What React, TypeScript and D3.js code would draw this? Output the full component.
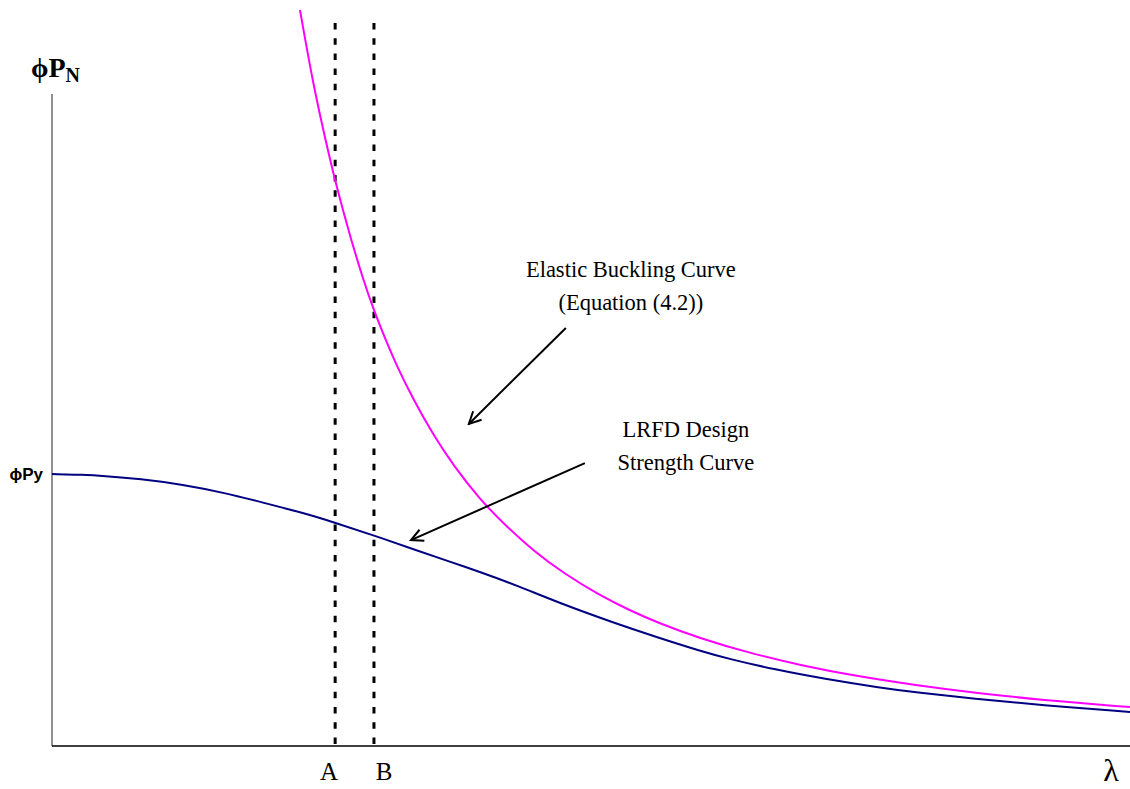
import React from "react";
import * as d3 from "d3";

// Slenderness (λ) and strength (P / Py)
const elasticLambda = [0.69, 0.726, 0.754, 0.788, 0.829, 0.866, 0.896, 0.932, 0.96, 1.005, 1.06, 1.116, 1.191, 1.261, 1.341, 1.422, 1.525, 1.606, 1.686, 1.803, 1.943, 2.093, 2.229, 2.404, 2.577, 2.75, 3.0];
const elasticP = [2.706, 2.44, 2.27, 2.075, 1.876, 1.715, 1.6, 1.482, 1.396, 1.275, 1.146, 1.033, 0.906, 0.812, 0.716, 0.637, 0.553, 0.5, 0.453, 0.396, 0.341, 0.294, 0.259, 0.223, 0.194, 0.17, 0.143];

const lrfdLambda = [0, 0.086, 0.142, 0.245, 0.365, 0.476, 0.587, 0.699, 0.788, 0.896, 1.005, 1.108, 1.191, 1.294, 1.411, 1.561, 1.686, 1.803, 1.884, 2.012, 2.148, 2.31, 2.404, 2.577, 2.75, 3.0];
const lrfdP = [1.0, 0.997, 0.993, 0.982, 0.961, 0.932, 0.895, 0.857, 0.821, 0.774, 0.724, 0.677, 0.64, 0.59, 0.526, 0.454, 0.399, 0.35, 0.32, 0.281, 0.247, 0.213, 0.197, 0.172, 0.151, 0.125];

const markerNames = ["A", "B"];
const markerLambda = [0.788, 0.896];
const markerLabelLambda = [0.771, 0.924];

const yTickValue = 1.0;
const yTickLabel = "ϕPy";

const annotationLines = [
  ["Elastic Buckling Curve", "(Equation (4.2))"],
  ["LRFD Design", "Strength Curve"],
];
const annotationTextLambda = [1.611, 1.764];
const annotationTextP = [[1.724, 1.603], [1.136, 1.015]];
const arrowFrom = [[1.43, 1.537], [1.483, 1.04]];
const arrowTo = [[1.16, 1.184], [0.999, 0.757]];

const W = 1130;
const H = 789;
const x0 = 52;
const x1 = 1130;
const yBase = 746;
const yTop = 94;

export default function App() {
  React.useEffect(() => {
    document.body.style.margin = "0";
  }, []);

  const x = d3.scaleLinear().domain([0, 3.0]).range([x0, x1]);
  const y = d3.scaleLinear().domain([0, 1]).range([yBase, 474]);

  const line = d3
    .line<[number, number]>()
    .x((d) => x(d[0]))
    .y((d) => y(d[1]))
    .curve(d3.curveBasis);

  const elastic = elasticLambda.map((l, i) => [l, elasticP[i]] as [number, number]);
  const lrfd = lrfdLambda.map((l, i) => [l, lrfdP[i]] as [number, number]);

  const serif = "'Liberation Serif', 'Times New Roman', serif";
  const sans = "'Liberation Sans', Arial, sans-serif";

  return (
    <svg width={W} height={H} style={{ display: "block", position: "absolute", left: 0, top: 0 }}>
      <defs>
        <marker id="arrowhead" viewBox="-14 -8 16 16" markerWidth="16" markerHeight="16" refX="0" refY="0" orient="auto" markerUnits="userSpaceOnUse">
          <path d="M -12,-6 L 0,0 L -12,6" fill="none" stroke="#000" strokeWidth={2} />
        </marker>
      </defs>
      <rect width={W} height={H} fill="#fff" />

      {/* axes */}
      <line x1={x0} x2={x0} y1={yTop} y2={yBase} stroke="#555" strokeWidth={1.3} />
      <line x1={x0} x2={x1} y1={yBase} y2={yBase} stroke="#000" strokeWidth={1.5} />

      {/* dashed markers */}
      {markerLambda.map((l, i) => (
        <line key={markerNames[i]} x1={x(l)} x2={x(l)} y1={23} y2={yBase} stroke="#000" strokeWidth={3} strokeDasharray="6.5,8.7" />
      ))}
      {markerNames.map((n, i) => (
        <text key={n} x={x(markerLabelLambda[i])} y={780} textAnchor="middle" fontFamily={serif} fontSize={25}>
          {n}
        </text>
      ))}

      {/* curves */}
      <path d={line(elastic) || ""} fill="none" stroke="#ff00ff" strokeWidth={2} />
      <path d={line(lrfd) || ""} fill="none" stroke="#000080" strokeWidth={2} />

      {/* arrows */}
      {arrowFrom.map((f, i) => (
        <line key={i} x1={x(f[0])} y1={y(f[1])} x2={x(arrowTo[i][0])} y2={y(arrowTo[i][1])} stroke="#000" strokeWidth={2} markerEnd="url(#arrowhead)" />
      ))}

      {/* annotations */}
      {annotationLines.map((lines, i) => (
        <g key={i}>
          {lines.map((t, j) => (
            <text key={j} x={x(annotationTextLambda[i])} y={y(annotationTextP[i][j])} textAnchor="middle" fontFamily={serif} fontSize={22.5}>
              {t}
            </text>
          ))}
        </g>
      ))}

      {/* y tick label */}
      <text x={43} y={y(yTickValue) + 6} textAnchor="end" fontFamily={sans} fontWeight="bold" fontSize={17}>
        {yTickLabel}
      </text>

      {/* axis titles */}
      <text x={31} y={77} fontFamily={serif} fontWeight="bold" fontSize={28}>
        ϕP<tspan fontSize={20} dy={5}>N</tspan>
      </text>
      <text x={1111} y={781} textAnchor="middle" fontFamily={serif} fontSize={32}>
        λ
      </text>
    </svg>
  );
}
